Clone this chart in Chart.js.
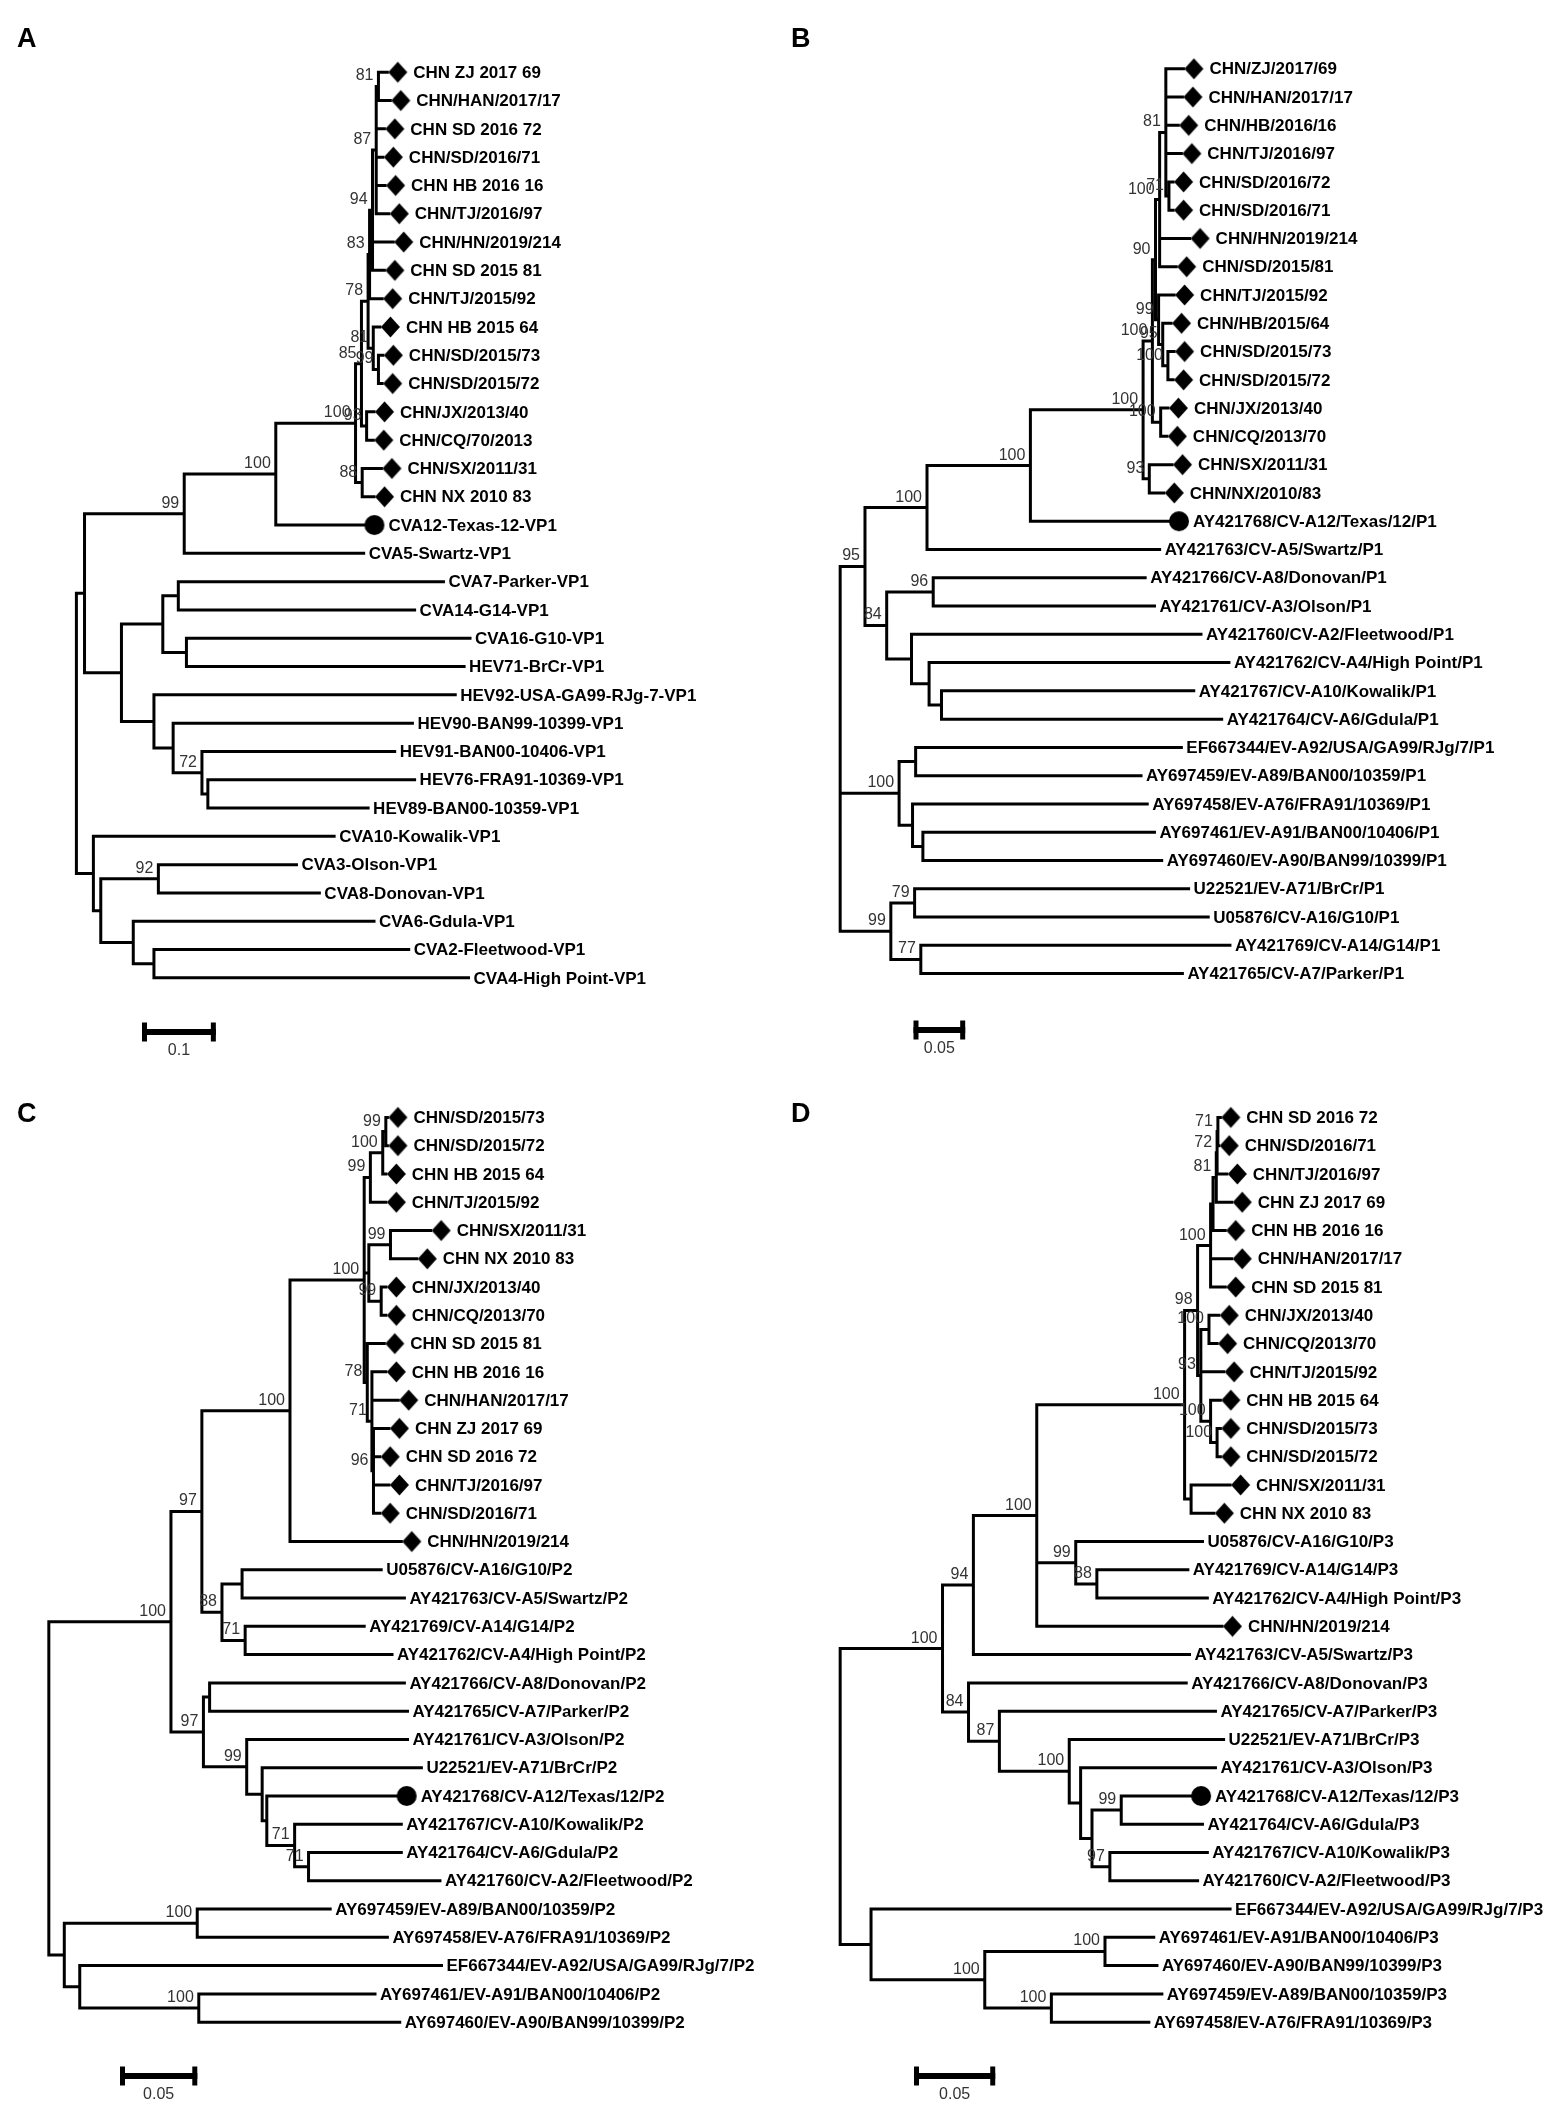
<!DOCTYPE html>
<html>
<head>
<meta charset="utf-8">
<script src="https://cdn.jsdelivr.net/npm/chart.js@4.4.0/dist/chart.umd.min.js"></script>
<style>
  html, body { margin:0; padding:0; background:#fff; }
  #wrap { position:relative; width:1562px; height:2112px; overflow:hidden; }
  #wrap canvas { position:absolute; }
</style>
</head>
<body>
<div id="wrap">
  <canvas id="treeA" width="781" height="1060" style="left:0;top:0"></canvas>
  <canvas id="treeB" width="781" height="1060" style="left:781px;top:0"></canvas>
  <canvas id="treeC" width="781" height="1052" style="left:0;top:1060px"></canvas>
  <canvas id="treeD" width="781" height="1052" style="left:781px;top:1060px"></canvas>
</div>
<script>
// ---- panel A (VP1) ----
const tipsA = ['CHN ZJ 2017 69','CHN/HAN/2017/17','CHN SD 2016 72','CHN/SD/2016/71','CHN HB 2016 16','CHN/TJ/2016/97','CHN/HN/2019/214','CHN SD 2015 81','CHN/TJ/2015/92','CHN HB 2015 64','CHN/SD/2015/73','CHN/SD/2015/72','CHN/JX/2013/40','CHN/CQ/70/2013','CHN/SX/2011/31','CHN NX 2010 83','CVA12-Texas-12-VP1','CVA5-Swartz-VP1','CVA7-Parker-VP1','CVA14-G14-VP1','CVA16-G10-VP1','HEV71-BrCr-VP1','HEV92-USA-GA99-RJg-7-VP1','HEV90-BAN99-10399-VP1','HEV91-BAN00-10406-VP1','HEV76-FRA91-10369-VP1','HEV89-BAN00-10359-VP1','CVA10-Kowalik-VP1','CVA3-Olson-VP1','CVA8-Donovan-VP1','CVA6-Gdula-VP1','CVA2-Fleetwood-VP1','CVA4-High Point-VP1'];
const tipLenA = [0.421,0.425,0.417,0.415,0.418,0.423,0.429,0.417,0.414,0.411,0.415,0.414,0.403,0.402,0.413,0.403,0.390,0.389,0.497,0.458,0.533,0.525,0.513,0.455,0.431,0.458,0.395,0.349,0.298,0.329,0.403,0.450,0.531];
const markA = ['d','d','d','d','d','d','d','d','d','d','d','d','d','d','d','d','c','','','','','','','','','','','','','','','',''];
// [node, depth, bootstrap, children (tip index or node)]
const nodesA = [
  ['root',0,'',['n1','nLow']],
  ['n1',0.011,'',['n99','nMid']],
  ['n99',0.146,'99',['n100a',17]],
  ['n100a',0.270,'100',['n100b',16]],
  ['n100b',0.378,'100',['n85','n88']],
  ['n85',0.386,'85',['n78','n93']],
  ['n78',0.395,'78',['n83','n81b']],
  ['n83',0.397,'83',['n94',8]],
  ['n94',0.401,'94',['n87',6,7]],
  ['n87',0.406,'87',['n81',2,3,4,5]],
  ['n81',0.409,'81',[0,1]],
  ['n81b',0.402,'81',[9,'n99b']],
  ['n99b',0.409,'99',[10,11]],
  ['n93',0.393,'93',[12,13]],
  ['n88',0.387,'88',[14,15]],
  ['nMid',0.061,'',['nA','nB']],
  ['nA',0.117,'',['nA1','nA2']],
  ['nA1',0.138,'',[18,19]],
  ['nA2',0.149,'',[20,21]],
  ['nB',0.105,'',[22,'nB2']],
  ['nB2',0.131,'',[23,'n72']],
  ['n72',0.170,'72',[24,'nC']],
  ['nC',0.178,'',[25,26]],
  ['nLow',0.023,'',[27,'nLow2']],
  ['nLow2',0.033,'',['n92','nLow3']],
  ['n92',0.111,'92',[28,29]],
  ['nLow3',0.077,'',[30,'nLow4']],
  ['nLow4',0.105,'',[31,32]]
];
const scaleA = 0.1;

// ---- panel B (P1) ----
const tipsB = ['CHN/ZJ/2017/69','CHN/HAN/2017/17','CHN/HB/2016/16','CHN/TJ/2016/97','CHN/SD/2016/72','CHN/SD/2016/71','CHN/HN/2019/214','CHN/SD/2015/81','CHN/TJ/2015/92','CHN/HB/2015/64','CHN/SD/2015/73','CHN/SD/2015/72','CHN/JX/2013/40','CHN/CQ/2013/70','CHN/SX/2011/31','CHN/NX/2010/83','AY421768/CV-A12/Texas/12/P1','AY421763/CV-A5/Swartz/P1','AY421766/CV-A8/Donovan/P1','AY421761/CV-A3/Olson/P1','AY421760/CV-A2/Fleetwood/P1','AY421762/CV-A4/High Point/P1','AY421767/CV-A10/Kowalik/P1','AY421764/CV-A6/Gdula/P1','EF667344/EV-A92/USA/GA99/RJg/7/P1','AY697459/EV-A89/BAN00/10359/P1','AY697458/EV-A76/FRA91/10369/P1','AY697461/EV-A91/BAN00/10406/P1','AY697460/EV-A90/BAN99/10399/P1','U22521/EV-A71/BrCr/P1','U05876/CV-A16/G10/P1','AY421769/CV-A14/G14/P1','AY421765/CV-A7/Parker/P1'];
const tipLenB = [0.332,0.331,0.327,0.330,0.322,0.322,0.338,0.325,0.323,0.320,0.323,0.322,0.317,0.316,0.321,0.313,0.318,0.309,0.295,0.304,0.349,0.376,0.342,0.369,0.330,0.291,0.297,0.304,0.311,0.337,0.356,0.377,0.331];
const markB = ['d','d','d','d','d','d','d','d','d','d','d','d','d','d','d','d','c','','','','','','','','','','','','','','','',''];
const nodesB = [
  ['root',0,'',['n95','n100g','n99r']],
  ['n95',0.024,'95',['n100c','n84']],
  ['n100c',0.084,'100',['n100d',17]],
  ['n100d',0.184,'100',['n100e',16]],
  ['n100e',0.293,'100',['n100f','n93']],
  ['n100f',0.302,'100',['n90','n100j']],
  ['n90',0.305,'90',['n100k','n99']],
  ['n100k',0.309,'100',['n81',6,7]],
  ['n81',0.315,'81',[0,1,2,3,'n71']],
  ['n71',0.318,'71',[4,5]],
  ['n99',0.308,'99',[8,'n95b']],
  ['n95b',0.312,'95',[9,'n100m']],
  ['n100m',0.317,'100',[10,11]],
  ['n100j',0.310,'100',[12,13]],
  ['n93',0.299,'93',[14,15]],
  ['n84',0.045,'84',['n96','nL']],
  ['n96',0.090,'96',[18,19]],
  ['nL',0.069,'',[20,'nL2']],
  ['nL2',0.086,'',[21,'nL3']],
  ['nL3',0.098,'',[22,23]],
  ['n100g',0.057,'100',['nG1','nG2']],
  ['nG1',0.073,'',[24,25]],
  ['nG2',0.070,'',[26,'nG3']],
  ['nG3',0.080,'',[27,28]],
  ['n99r',0.049,'99',['n79','n77']],
  ['n79',0.072,'79',[29,30]],
  ['n77',0.078,'77',[31,32]]
];
const scaleB = 0.05;

// ---- panel C (P2) ----
const tipsC = ['CHN/SD/2015/73','CHN/SD/2015/72','CHN HB 2015 64','CHN/TJ/2015/92','CHN/SX/2011/31','CHN NX 2010 83','CHN/JX/2013/40','CHN/CQ/2013/70','CHN SD 2015 81','CHN HB 2016 16','CHN/HAN/2017/17','CHN ZJ 2017 69','CHN SD 2016 72','CHN/TJ/2016/97','CHN/SD/2016/71','CHN/HN/2019/214','U05876/CV-A16/G10/P2','AY421763/CV-A5/Swartz/P2','AY421769/CV-A14/G14/P2','AY421762/CV-A4/High Point/P2','AY421766/CV-A8/Donovan/P2','AY421765/CV-A7/Parker/P2','AY421761/CV-A3/Olson/P2','U22521/EV-A71/BrCr/P2','AY421768/CV-A12/Texas/12/P2','AY421767/CV-A10/Kowalik/P2','AY421764/CV-A6/Gdula/P2','AY421760/CV-A2/Fleetwood/P2','AY697459/EV-A89/BAN00/10359/P2','AY697458/EV-A76/FRA91/10369/P2','EF667344/EV-A92/USA/GA99/RJg/7/P2','AY697461/EV-A91/BAN00/10406/P2','AY697460/EV-A90/BAN99/10399/P2'];
const tipLenC = [0.219,0.219,0.218,0.218,0.247,0.238,0.218,0.218,0.217,0.218,0.226,0.220,0.214,0.220,0.214,0.228,0.215,0.230,0.204,0.222,0.230,0.232,0.232,0.241,0.225,0.228,0.228,0.253,0.182,0.219,0.254,0.211,0.227];
const markC = ['d','d','d','d','d','d','d','d','d','d','d','d','d','d','d','d','','','','','','','','','c','','','','','','','',''];
const nodesC = [
  ['root',0,'',['n100t','nBot']],
  ['n100t',0.079,'100',['n97a','n97b']],
  ['n97a',0.099,'97',['n100b','n88']],
  ['n100b',0.156,'100',['n100c',15]],
  ['n100c',0.204,'100',['n99a','nMid','n78']],
  ['n99a',0.208,'99',['n100d',3]],
  ['n100d',0.216,'100',['n99b',2]],
  ['n99b',0.218,'99',[0,1]],
  ['nMid',0.207,'',['n99sx','nJx']],
  ['n99sx',0.221,'99',[4,5]],
  ['nJx',0.215,'99',[6,7]],
  ['n78',0.206,'78',[8,'n71']],
  ['n71',0.209,'71',[9,10,'n96']],
  ['n96',0.210,'96',[11,12,13,14]],
  ['n88',0.112,'88',['n16','n71b']],
  ['n16',0.125,'',[16,17]],
  ['n71b',0.127,'71',[18,19]],
  ['n97b',0.100,'97',['nDp','n99']],
  ['nDp',0.104,'',[20,21]],
  ['n99',0.128,'99',[22,'nBr']],
  ['nBr',0.138,'',[23,'nA12']],
  ['nA12',0.141,'',[24,'n71c']],
  ['n71c',0.159,'71',[25,'n71d']],
  ['n71d',0.168,'71',[26,27]],
  ['nBot',0.010,'',['n100e','n92']],
  ['n100e',0.096,'100',[28,29]],
  ['n92',0.020,'',[30,'n100f']],
  ['n100f',0.097,'100',[31,32]]
];
const scaleC = 0.05;

// ---- panel D (P3) ----
const tipsD = ['CHN SD 2016 72','CHN/SD/2016/71','CHN/TJ/2016/97','CHN ZJ 2017 69','CHN HB 2016 16','CHN/HAN/2017/17','CHN SD 2015 81','CHN/JX/2013/40','CHN/CQ/2013/70','CHN/TJ/2015/92','CHN HB 2015 64','CHN/SD/2015/73','CHN/SD/2015/72','CHN/SX/2011/31','CHN NX 2010 83','U05876/CV-A16/G10/P3','AY421769/CV-A14/G14/P3','AY421762/CV-A4/High Point/P3','CHN/HN/2019/214','AY421763/CV-A5/Swartz/P3','AY421766/CV-A8/Donovan/P3','AY421765/CV-A7/Parker/P3','U22521/EV-A71/BrCr/P3','AY421761/CV-A3/Olson/P3','AY421768/CV-A12/Texas/12/P3','AY421764/CV-A6/Gdula/P3','AY421767/CV-A10/Kowalik/P3','AY421760/CV-A2/Fleetwood/P3','EF667344/EV-A92/USA/GA99/RJg/7/P3','AY697461/EV-A91/BAN00/10406/P3','AY697460/EV-A90/BAN99/10399/P3','AY697459/EV-A89/BAN00/10359/P3','AY697458/EV-A76/FRA91/10369/P3'];
const tipLenD = [0.234,0.233,0.238,0.241,0.237,0.241,0.237,0.233,0.232,0.236,0.234,0.234,0.234,0.240,0.230,0.223,0.214,0.226,0.235,0.215,0.213,0.231,0.236,0.231,0.216,0.223,0.226,0.220,0.240,0.193,0.195,0.198,0.190];
const markD = ['d','d','d','d','d','d','d','d','d','d','d','d','d','d','d','','','','d','','','','','','c','','','','','','','',''];
const nodesD = [
  ['root',0,'',['n100a','nBot']],
  ['n100a',0.063,'100',['n94','n84']],
  ['n94',0.082,'94',['n100b',19]],
  ['n100b',0.121,'100',['n100c','n99',18]],
  ['n100c',0.212,'100',['n98','nSx']],
  ['n98',0.220,'98',['n100d','n93']],
  ['n100d',0.228,'100',['nZ',5,6]],
  ['nZ',0.2295,'',['n81',4]],
  ['n81',0.2315,'81',['n72',3]],
  ['n72',0.232,'72',['n71',2]],
  ['n71',0.2325,'71',[0,1]],
  ['n93',0.222,'93',['n100jx',9,'n100hb']],
  ['n100jx',0.227,'100',[7,8]],
  ['n100hb',0.228,'100',[10,'n100sd']],
  ['n100sd',0.232,'100',[11,12]],
  ['nSx',0.216,'',[13,14]],
  ['n99',0.145,'99',[15,'n88']],
  ['n88',0.158,'88',[16,17]],
  ['n84',0.079,'84',[20,'n87']],
  ['n87',0.098,'87',[21,'n100e']],
  ['n100e',0.141,'100',[22,'nOl']],
  ['nOl',0.148,'',[23,'nX']],
  ['nX',0.155,'',['n99b','n97']],
  ['n99b',0.173,'99',[24,25]],
  ['n97',0.166,'97',[26,27]],
  ['nBot',0.019,'',[28,'n100f']],
  ['n100f',0.089,'100',['n100g','n100h']],
  ['n100g',0.163,'100',[29,30]],
  ['n100h',0.130,'100',[31,32]]
];
const scaleD = 0.05;

// page layout in canvas pixels
const LAYOUT = {
  A: { rootX:71.5, unit:750,  firstY:67,   step:28.625, barX:142,   barY:1032, letterX:17, letterY:47 },
  B: { rootX:54,   unit:1050, firstY:63.5, step:28.6,   barX:132.5, barY:1030, letterX:10, letterY:47 },
  C: { rootX:43.5, unit:1570, firstY:52,   step:28.6,   barX:120,   barY:1016, letterX:17, letterY:62 },
  D: { rootX:54,   unit:1650, firstY:52,   step:28.6,   barX:133,   barY:1016, letterX:10, letterY:62 }
};

const TIP_FONT = 'bold 17px "Liberation Sans", Arial, sans-serif';
const BOOT_FONT = '16px "Liberation Sans", Arial, sans-serif';

// marker sprites: the branch end sits at the sprite centre, the mark lies to its right
function makeSprite(kind){
  const c = document.createElement('canvas');
  c.width = 46; c.height = 24;
  const g = c.getContext('2d');
  g.fillStyle = '#000';
  g.beginPath();
  if(kind === 'd'){ g.moveTo(24,12); g.lineTo(33.5,1.5); g.lineTo(43,12); g.lineTo(33.5,22.5); g.closePath(); }
  else { g.arc(33,12,10,0,Math.PI*2); }
  g.fill();
  return c;
}
const SPRITE = { d: makeSprite('d'), c: makeSprite('c') };

function buildTree(lens, nodes){
  const byId = {}, yOf = {};
  nodes.forEach(n => byId[n[0]] = n);
  function pos(ref){
    if(typeof ref === 'number') return { x: lens[ref], y: ref };
    if(yOf[ref] === undefined){
      const kids = byId[ref][3].map(pos);
      yOf[ref] = (kids[0].y + kids[kids.length-1].y) / 2;
    }
    return { x: byId[ref][1], y: yOf[ref] };
  }
  const segs = [], boots = [];
  nodes.forEach(n => {
    const p = pos(n[0]);
    const kids = n[3].map(pos);
    segs.push({x:p.x, y:kids[0].y}, {x:p.x, y:kids[kids.length-1].y}, {x:p.x, y:null});
    kids.forEach(k => segs.push({x:p.x, y:k.y}, {x:k.x, y:k.y}, {x:k.x, y:null}));
    if(n[2]) boots.push({ x:p.x, y:p.y, t:n[2] });
  });
  return { segs, boots };
}

function drawPanel(id, letter, tips, lens, marks, nodes, scaleVal){
  const L = LAYOUT[letter];
  const cv = document.getElementById(id);
  const W = cv.width, H = cv.height;
  const tree = buildTree(lens, nodes);

  const markSets = ['d','c'].map(k => ({
    data: tips.map((t,i) => marks[i] === k ? {x: lens[i], y: i} : null).filter(p => p),
    pointStyle: SPRITE[k], pointRadius: 5, pointHoverRadius: 5, showLine: false, clip: false
  }));

  const labels = {
    id: 'treeLabels',
    afterDatasetsDraw(chart){
      const ctx = chart.ctx, xs = chart.scales.x, ys = chart.scales.y;
      ctx.save();
      ctx.fillStyle = '#000';
      ctx.font = TIP_FONT; ctx.textAlign = 'left'; ctx.textBaseline = 'middle';
      tips.forEach((t,i) => {
        const off = marks[i] === 'd' ? 26 : marks[i] === 'c' ? 24 : 5;
        ctx.fillText(t, xs.getPixelForValue(lens[i]) + off, ys.getPixelForValue(i) + 1);
      });
      ctx.fillStyle = '#333';
      ctx.font = BOOT_FONT; ctx.textAlign = 'right'; ctx.textBaseline = 'alphabetic';
      tree.boots.forEach(b => ctx.fillText(b.t, xs.getPixelForValue(b.x) - 5, ys.getPixelForValue(b.y) - 6));

      // scale bar
      const len = xs.getPixelForValue(scaleVal) - xs.getPixelForValue(0);
      ctx.fillStyle = '#000';
      ctx.fillRect(L.barX, L.barY - 3, len, 6);
      ctx.fillRect(L.barX, L.barY - 9.5, 5, 19);
      ctx.fillRect(L.barX + len - 5, L.barY - 9.5, 5, 19);
      ctx.fillStyle = '#333';
      ctx.font = BOOT_FONT; ctx.textAlign = 'center'; ctx.textBaseline = 'middle';
      ctx.fillText(String(scaleVal), L.barX + len/2, L.barY + 19);

      ctx.fillStyle = '#000';
      ctx.font = 'bold 27px "Liberation Sans", Arial, sans-serif';
      ctx.textAlign = 'left'; ctx.textBaseline = 'alphabetic';
      ctx.fillText(letter, L.letterX, L.letterY);
      ctx.restore();
    }
  };

  return new Chart(cv.getContext('2d'), {
    type: 'scatter',
    data: { datasets: [
      { data: tree.segs, showLine: true, spanGaps: false, borderColor: '#000', borderWidth: 3,
        borderCapStyle: 'square', pointRadius: 0, pointHoverRadius: 0, tension: 0 },
      ...markSets
    ] },
    options: {
      responsive: false, devicePixelRatio: 1, animation: false, events: [],
      layout: { padding: 0 },
      plugins: { legend: { display: false }, tooltip: { enabled: false } },
      scales: {
        x: { type: 'linear', display: false, min: -L.rootX / L.unit, max: (W - L.rootX) / L.unit },
        y: { type: 'linear', display: false, reverse: true, min: -L.firstY / L.step, max: (H - L.firstY) / L.step }
      }
    },
    plugins: [labels]
  });
}

drawPanel('treeA', 'A', tipsA, tipLenA, markA, nodesA, scaleA);
drawPanel('treeB', 'B', tipsB, tipLenB, markB, nodesB, scaleB);
drawPanel('treeC', 'C', tipsC, tipLenC, markC, nodesC, scaleC);
drawPanel('treeD', 'D', tipsD, tipLenD, markD, nodesD, scaleD);
</script>
</body>
</html>
